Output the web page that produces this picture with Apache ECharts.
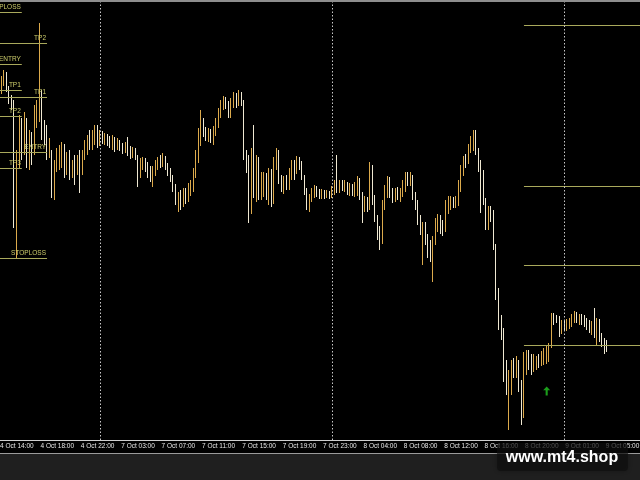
<!DOCTYPE html>
<html><head><meta charset="utf-8">
<script src="https://cdn.jsdelivr.net/npm/echarts@6/dist/echarts.min.js"></script>
<style>html,body{margin:0;padding:0;background:#000}#c{width:640px;height:480px}</style>
</head><body><div id="c"></div>
<script>
// M15 candles, prices in points (higher = higher price)
const openP = [
340,340,348,358,364,350,342,336,218,282,
308,290,315,280,300,290,320,322,345,314,
310,288,288,250,275,275,280,292,270,285,
268,280,270,282,270,285,292,303,295,302,
308,300,306,299,304,300,295,301,293,298,
294,290,295,290,284,290,283,267,275,280,
274,268,260,268,274,280,276,282,274,269,
263,254,234,245,237,248,242,250,252,266,
280,298,312,308,302,308,299,308,316,327,
334,340,336,326,336,343,336,345,338,287,
280,230,288,242,280,244,250,264,240,268,
240,275,288,262,250,260,254,265,276,270,
280,276,262,250,233,242,246,252,248,244,
248,244,247,244,248,256,250,257,251,256,
247,253,246,248,258,245,234,240,233,272,
242,222,210,200,234,248,260,248,241,249,
242,247,252,264,258,262,245,237,222,204,
214,202,194,182,200,214,222,216,212,230,
234,240,235,238,252,268,282,280,290,292,
305,290,277,268,240,225,230,226,193,148,
120,108,70,40,50,78,68,77,55,30,
70,86,82,72,74,82,78,78,80,80,
93,124,123,122,110,117,112,114,116,120,
125,119,123,122,118,116,108,116,98,118,
104,99,97];
const closeP = [
345,348,360,365,350,340,334,222,285,310,
290,315,280,300,290,322,330,395,312,305,
288,295,248,277,285,290,292,270,280,265,
275,268,280,264,287,295,302,295,305,310,
302,306,300,304,298,295,301,294,298,292,
290,295,288,284,290,283,265,277,280,272,
266,262,270,275,280,275,282,273,268,262,
253,240,245,237,248,240,252,257,268,280,
300,312,307,303,308,300,310,318,328,335,
340,335,325,337,343,336,345,338,285,275,
228,288,250,282,245,262,264,245,268,238,
280,288,262,252,260,254,268,275,268,280,
274,263,248,234,242,248,252,246,244,248,
244,247,244,250,256,250,257,252,256,248,
253,247,254,260,244,235,240,232,272,240,
222,208,200,235,250,260,246,241,248,244,
248,255,264,258,264,245,235,220,210,214,
200,188,183,200,218,222,210,208,235,240,
240,235,240,255,270,280,275,292,300,305,
290,275,268,240,225,230,223,193,145,120,
105,62,50,65,75,68,78,53,28,82,
85,74,68,82,80,76,85,88,92,95,
124,120,120,108,117,112,118,119,122,125,
120,123,118,116,113,110,115,105,118,102,
96,94,92];
const highP = [
347,350,364,370,368,354,345,340,290,325,
322,328,322,310,308,335,340,417,350,320,
315,302,290,280,292,295,298,296,288,290,
280,285,285,290,290,300,305,310,310,315,
315,310,309,307,306,304,305,303,302,300,
297,298,303,294,293,292,285,282,283,282,
278,274,274,280,283,285,287,284,277,272,
265,256,248,250,252,252,257,260,272,290,
312,330,322,313,312,311,314,322,332,340,
344,343,339,342,348,347,350,348,340,290,
285,292,315,285,283,268,268,267,272,271,
283,292,290,265,264,265,272,280,280,284,
283,279,265,252,246,252,255,254,251,251,
250,250,249,254,260,285,260,260,260,258,
257,256,258,264,262,248,244,243,278,275,
245,225,214,240,255,264,263,252,252,253,
252,260,268,268,268,265,248,240,225,218,
218,206,200,204,222,226,225,220,240,244,
244,243,244,260,275,284,286,296,304,310,
310,292,280,270,242,234,234,230,196,152,
125,112,80,70,80,82,84,80,60,88,
90,90,86,86,84,86,89,92,95,97,
127,127,125,124,120,120,121,122,126,129,
128,126,126,125,122,120,119,132,122,121,
107,102,100];
const lowP = [
338,339,346,354,348,336,330,212,182,272,
280,285,272,270,275,285,312,318,300,295,
280,282,242,240,268,270,272,262,265,260,
262,255,265,247,265,280,285,290,290,295,
292,294,296,295,294,292,290,288,290,289,
286,287,284,281,282,280,253,262,270,268,
262,258,253,264,270,272,273,270,264,258,
248,235,228,230,233,236,238,244,248,262,
277,294,303,299,298,297,295,304,312,322,
330,331,322,322,332,332,334,334,280,267,
217,226,242,238,240,240,243,240,235,233,
236,270,256,248,246,250,250,260,260,266,
270,260,245,230,228,238,242,243,241,241,
241,242,241,242,245,247,247,249,248,245,
244,244,243,244,240,217,228,228,230,235,
218,200,190,196,230,242,242,237,238,240,
238,243,248,254,254,240,230,215,205,175,
195,182,178,158,195,208,206,204,208,226,
230,232,232,234,248,264,272,276,287,289,
285,268,227,235,210,210,218,190,140,110,
100,58,45,10,45,62,62,48,15,22,
65,70,65,68,70,72,74,75,76,78,
92,115,117,103,106,109,109,111,113,117,
117,115,115,113,110,107,105,102,95,98,
93,86,88];

// Trading sessions (server time) used to build the M15 time categories
const sessions = [['4 Oct', 13*60+45, 23*60+45], ['7 Oct', 60, 23*60+45], ['8 Oct', 60, 23*60+45], ['9 Oct', 60, 23*60+45]];
const totalSlots = 256;
const tickLabels = ['4 Oct 14:00','4 Oct 18:00','4 Oct 22:00','7 Oct 03:00','7 Oct 07:00','7 Oct 11:00','7 Oct 15:00','7 Oct 19:00','7 Oct 23:00','8 Oct 04:00','8 Oct 08:00','8 Oct 12:00','8 Oct 16:00','8 Oct 20:00','9 Oct 01:00','9 Oct 05:00'];
const daySeparators = ['7 Oct 01:00','8 Oct 01:00','9 Oct 01:00'];

// Left trade-level sets (sell signal A, buy signal B)
const setANames = ['STOPLOSS','ENTRY','TP1','TP2','TP3'];
const setALevels = [428, 376, 350, 324, 272];
const setAEnd = '4 Oct 16:15';
const setBNames = ['TP2','TP1','ENTRY','STOPLOSS'];
const setBLevels = [397, 343, 288, 182];
const setBEnd = '4 Oct 18:45';
// Right-hand levels
const rightLevels = [415, 254, 175, 95];
const rightStart = '8 Oct 20:00';
// Signal arrow
const arrowTime = '8 Oct 22:15';
const arrowPrice = 49;

const pad = n => String(n).padStart(2, '0');
const cats = [];
for (const [d, s, e] of sessions) {
  for (let m = s; m <= e && cats.length < totalSlots; m += 15) cats.push(d + ' ' + pad(Math.floor(m/60)) + ':' + pad(m%60));
}
const candles = openP.map((o, i) => [o, closeP[i], lowP[i], highP[i]]);

const LINE = '#a9a95c', TXT = '#cdcd6c';
const font = '"Liberation Sans",Arial,sans-serif';
const ml = [];
const seg = (names, levels, start, end) => names.forEach((n, k) => ml.push([
  {coord: [start, levels[k]], name: n, lineStyle: {color: LINE, width: 1, type: 'solid'},
   label: {show: true, position: 'insideEndTop', formatter: '{b}', color: TXT, fontSize: 6.5, fontFamily: font, distance: 1}},
  {coord: [end, levels[k]]}]));
seg(setANames, setALevels, cats[0], setAEnd);
seg(setBNames, setBLevels, cats[0], setBEnd);
rightLevels.forEach(v => ml.push([
  {coord: [rightStart, v], lineStyle: {color: LINE, width: 1, type: 'solid'}, label: {show: false}},
  {coord: [cats[cats.length-1], v]}]));
daySeparators.forEach(t => ml.push({xAxis: t, lineStyle: {color: '#c8c8c8', width: 1, type: [1.5, 2]}, label: {show: false}}));

const isTick = idx => tickLabels.indexOf(cats[idx]) >= 0;
const chart = echarts.init(document.getElementById('c'), null, {renderer: 'canvas'});
chart.setOption({
  backgroundColor: '#000',
  animation: false,
  grid: {left: -4.69, right: -1.3, top: 0, bottom: 40, containLabel: false, outerBoundsMode: 'none'},
  xAxis: {
    type: 'category', data: cats, boundaryGap: true,
    axisLine: {lineStyle: {color: '#cfcfcf', width: 1}},
    axisTick: {interval: isTick, alignWithLabel: true, length: 3, lineStyle: {color: '#cfcfcf'}},
    axisLabel: {interval: isTick, showMinLabel: true, showMaxLabel: true, hideOverlap: false, align: 'left', margin: 3, padding: [0,0,0,1], color: '#e6e6e6', fontSize: 6.5, fontFamily: font},
    splitLine: {show: false}
  },
  yAxis: {type: 'value', min: 0, max: 440, show: false, splitLine: {show: false}},
  series: [
    {type: 'candlestick', data: candles, barWidth: 1.3,
     itemStyle: {color: '#dcaa4c', color0: '#efe8d2', borderColor: '#dcaa4c', borderColor0: '#efe8d2', borderWidth: 1},
     markLine: {silent: true, symbol: ['none','none'], animation: false, data: ml}},
    {type: 'scatter', data: [[arrowTime, arrowPrice]], symbol: 'path://M5,0 L10,5 L6.5,5 L6.5,12 L3.5,12 L3.5,5 L0,5 Z',
     symbolSize: [7, 9], itemStyle: {color: '#22c422'}, silent: true}
  ],
  graphic: [
    {type: 'rect', shape: {x: 0, y: 0, width: 640, height: 2}, style: {fill: '#8e8e8e'}, z: 10},
    {type: 'rect', shape: {x: 0, y: 454, width: 640, height: 26}, style: {fill: '#1f1f1f'}, z: 10},
    {type: 'line', shape: {x1: 0, y1: 453.5, x2: 640, y2: 453.5}, style: {stroke: '#9a9a9a', lineWidth: 1}, z: 10},
    {type: 'rect', shape: {x: 497, y: 443, width: 131, height: 28, r: 4}, style: {fill: 'rgba(14,14,14,0.62)', shadowBlur: 4, shadowColor: 'rgba(0,0,0,0.5)'}, z: 20},
    {type: 'text', x: 562, y: 458, style: {text: 'www.mt4.shop', fill: '#ffffff', font: 'bold 16px "Liberation Sans", Arial, sans-serif', align: 'center', verticalAlign: 'middle'}, z: 21}
  ]
});
</script></body></html>
